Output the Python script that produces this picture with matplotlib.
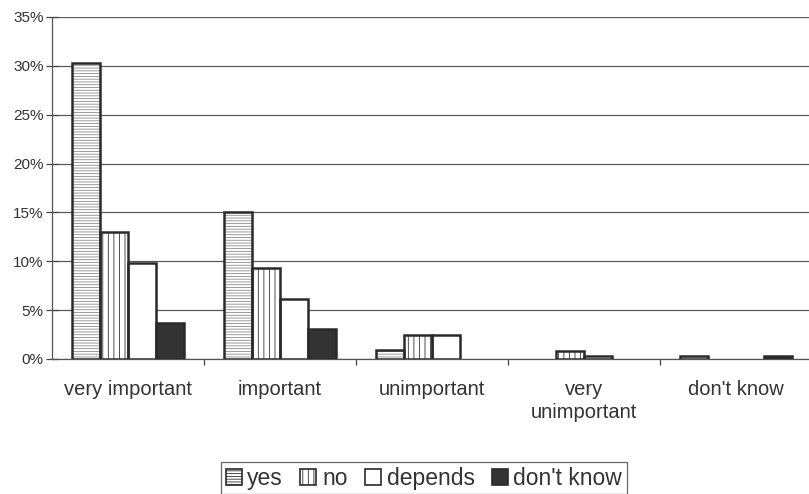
import numpy as np
import matplotlib.pyplot as plt
from matplotlib.patches import Patch
from matplotlib.ticker import FuncFormatter

plt.rcParams['font.family'] = ['Liberation Sans', 'DejaVu Sans']
plt.rcParams['hatch.linewidth'] = 0.6

categories = ['very important', 'important', 'unimportant', 'very\nunimportant', "don't know"]
yes = [30.3, 15.0, 0.9, 0.0, 0.3]
no = [13.0, 9.3, 2.5, 0.8, 0.0]
depends = [9.8, 6.1, 2.5, 0.35, 0.0]
dont_know = [3.7, 3.1, 0.0, 0.0, 0.3]

# name, values, fill, hatch, hatch colour
series = [
    ('yes', yes, 'white', '------', '#8a8a8a'),
    ('no', no, 'white', '|||', '#333333'),
    ('depends', depends, 'white', None, None),
    ("don't know", dont_know, '#333333', None, None),
]

fig = plt.figure(figsize=(8.09, 4.94), dpi=100)
ax = fig.add_axes([0.0643, 0.2733, 0.9357, 0.6923])

x = np.arange(len(categories))
w = 0.184
handles = []
for i, (name, vals, fc, hatch, hc) in enumerate(series):
    vals = np.asarray(vals)
    pos = x + (i - 1.5) * w
    lw = np.where(vals > 0, 1.8, 0.0)
    # fill + hatch first, then the dark outline on top
    ax.bar(pos, vals, w, color=fc, edgecolor=hc if hc else fc,
           linewidth=0, hatch=hatch, zorder=3)
    ax.bar(pos, vals, w, fill=False, edgecolor='#2a2a2a', linewidth=lw, zorder=4)
    handles.append(Patch(facecolor=fc, edgecolor='#2a2a2a', hatch=hatch,
                         linewidth=1.2, label=name))

ax.set_xlim(-0.5, 4.48)
ax.set_ylim(0, 35)
ax.set_yticks(np.arange(0, 36, 5))
ax.yaxis.set_major_formatter(FuncFormatter(lambda v, p: f'{v:.0f}%'))
ax.yaxis.grid(True, color='#5a5a5a', linewidth=0.9, zorder=0)

ax.set_xticks(x)
ax.set_xticklabels(categories, fontsize=14.5, color='#333333', linespacing=1.25)
ax.set_xticks(np.arange(0.5, 4.5, 1), minor=True)
ax.tick_params(axis='x', which='major', length=0, pad=15)
ax.tick_params(axis='x', which='minor', length=4, width=0.9, color='#444444')
ax.tick_params(axis='y', labelsize=11, labelcolor='#333333', length=8,
               direction='inout', width=0.9, color='#444444', pad=2)

for s in ['top', 'right']:
    ax.spines[s].set_visible(False)
for s in ['left', 'bottom']:
    ax.spines[s].set_color('#555555')
    ax.spines[s].set_linewidth(0.9)

leg = fig.legend(handles=handles, loc='upper center', bbox_to_anchor=(0.524, 0.0648),
                 ncol=4, fontsize=16.5, frameon=True, fancybox=False,
                 edgecolor='#444444', handlelength=0.7, handleheight=0.7,
                 handletextpad=0.25, columnspacing=0.75, borderpad=0.2,
                 borderaxespad=0)
leg.get_frame().set_linewidth(0.9)
for t in leg.get_texts():
    t.set_color('#333333')

fig.savefig('out.png', dpi=100)
